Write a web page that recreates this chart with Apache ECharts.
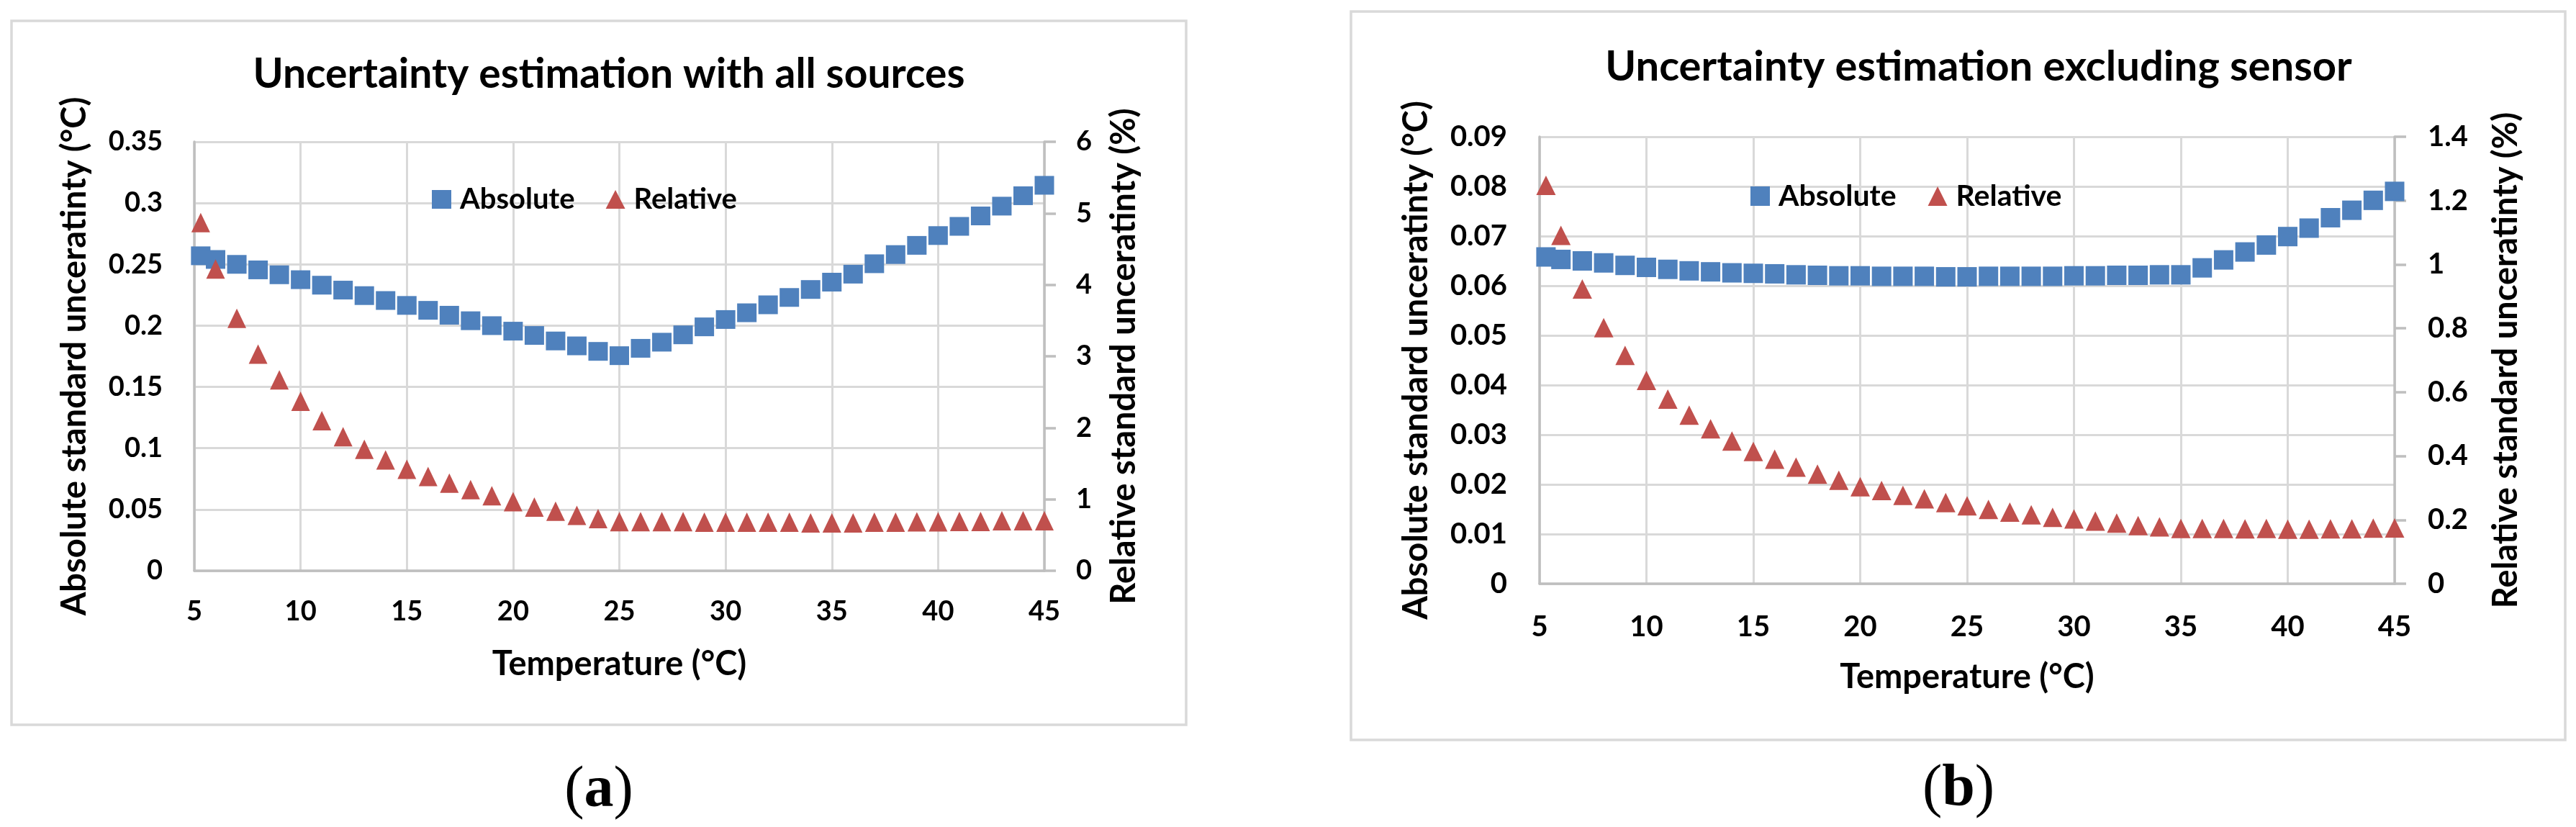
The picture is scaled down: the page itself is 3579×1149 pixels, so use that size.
<!DOCTYPE html>
<html><head><meta charset="utf-8">
<script src="https://cdn.jsdelivr.net/npm/echarts@6/dist/echarts.min.js"></script>
<style>html,body{margin:0;padding:0;background:#fff}#c{width:3579px;height:1149px}</style>
</head><body><div id="c"></div>
<script>
// ---------------- data ----------------
const temperatures = [5.3,6,7,8,9,10,11,12,13,14,15,16,17,18,19,20,21,22,23,24,25,26,27,28,29,30,31,32,33,34,35,36,37,38,39,40,41,42,43,44,45];
const absoluteA = [0.257,0.254,0.250,0.2455,0.2415,0.2375,0.233,0.229,0.2245,0.2205,0.2165,0.2125,0.2085,0.204,0.200,0.1955,0.192,0.1875,0.1835,0.179,0.1755,
                   0.1815,0.1865,0.1925,0.199,0.205,0.2105,0.217,0.223,0.2295,0.2355,0.242,0.2505,0.258,0.2655,0.2735,0.281,0.2895,0.2975,0.306,0.3145];
const relativeA = [4.87,4.22,3.53,3.03,2.67,2.37,2.10,1.875,1.70,1.55,1.42,1.32,1.225,1.135,1.05,0.967,0.89,0.834,0.775,0.73,0.686,
                   0.686,0.686,0.686,0.68,0.68,0.68,0.68,0.68,0.67,0.67,0.67,0.68,0.68,0.685,0.685,0.69,0.69,0.70,0.70,0.70];
const absoluteB = [0.0658,0.0653,0.0650,0.0646,0.0641,0.0637,0.0633,0.0630,0.0628,0.0626,0.0625,0.0624,0.0622,0.0621,0.0620,0.0620,0.0619,0.0619,0.0619,0.0618,0.0618,
                   0.0619,0.0619,0.0619,0.0619,0.0620,0.0620,0.0621,0.0621,0.0622,0.0622,0.0636,0.0652,0.0668,0.0682,0.0699,0.0716,0.0737,0.0752,0.0772,0.0790];
const relativeB = [1.248,1.091,0.923,0.802,0.715,0.637,0.578,0.528,0.485,0.447,0.414,0.390,0.365,0.343,0.324,0.304,0.292,0.277,0.266,0.254,0.244,
                   0.233,0.2245,0.216,0.208,0.203,0.196,0.190,0.182,0.178,0.173,0.173,0.173,0.172,0.173,0.171,0.171,0.172,0.172,0.174,0.175];
const chartTitles = ['Uncertainty estimation with all sources', 'Uncertainty estimation excluding sensor'];
const panelLetters = ['a', 'b'];
const seriesNames = ['Absolute', 'Relative'];
const xAxisName = 'Temperature (°C)';
const leftAxisName = 'Absolute standard unceratinty (°C)';
const rightAxisName = 'Relative standard unceratinty (%)';
const xTicks = {min: 5, max: 45, interval: 5};
const leftTicks = [{min: 0, max: 0.35, interval: 0.05}, {min: 0, max: 0.09, interval: 0.01}];
const rightTicks = [{min: 0, max: 6, interval: 1}, {min: 0, max: 1.4, interval: 0.2}];

// ---------------- layout / style ----------------
const FONT = 'Lato';
const BLUE = '#4F81BD', RED = '#C0504D', GRID = '#D9D9D9', AXIS = '#BFBFBF';
const panels = [
  {frame:[16,29,1648,1007], grid:[270,197,1181,596], titleX:846, titleTop:75, titleSize:57,
   tick:38, xMargin:38, yMargin:44, rMargin:44, name:47, leftGap:143, rightGap:87, xGap:106,
   legend:[600,257], legendGap:43, legendFont:40, sq:[27,26], tri:[26,27], letterXY:[832,1099]},
  {frame:[1877,16,3564,1028], grid:[2139,190,1188,621], titleX:2749, titleTop:64, titleSize:58,
   tick:40, xMargin:40, yMargin:45, rMargin:46, name:47, leftGap:148, rightGap:131, xGap:106,
   legend:[2432,252], legendGap:44, legendFont:41, sq:[27,27], tri:[27,27], letterXY:[2721,1097]}
];
const absData = [absoluteA, absoluteB];
const relData = [relativeA, relativeB];

const option = {
  backgroundColor: '#ffffff',
  animation: false,
  title: [], legend: [], grid: [], xAxis: [], yAxis: [], series: [], graphic: []
};

panels.forEach((p, k) => {
  const [fx0, fy0, fx1, fy1] = p.frame;
  option.graphic.push({type:'rect', shape:{x:fx0, y:fy0, width:fx1-fx0, height:fy1-fy0},
    style:{fill:'#ffffff', stroke:GRID, lineWidth:3.5}, z:-10, silent:true});
  option.graphic.push({type:'text', x:p.letterXY[0], y:p.letterXY[1], z:10,
    style:{text:'{p|(}{b|' + panelLetters[k] + '}{p|)}', align:'center', verticalAlign:'middle',
      rich:{p:{fontFamily:'Liberation Serif', fontSize:82, fill:'#000'},
            b:{fontFamily:'Liberation Serif', fontWeight:'bold', fontSize:82, fill:'#000'}}}});
  option.title.push({text: chartTitles[k], left: p.titleX, top: p.titleTop, textAlign:'center', padding:0,
    textStyle:{fontFamily:FONT, fontWeight:'bold', fontSize:p.titleSize, color:'#000'}});
  option.legend.push({left:p.legend[0], top:p.legend[1], orient:'horizontal', padding:0,
    itemWidth:p.sq[0], itemHeight:p.sq[1], itemGap:p.legendGap, selectedMode:false,
    data:[{name:seriesNames[0], icon:'rect'}, {name:seriesNames[1], icon:'triangle'}],
    textStyle:{fontFamily:FONT, fontWeight:'bold', fontSize:p.legendFont, color:'#000', padding:[0,0,0,7]}});
  option.grid.push({left:p.grid[0], top:p.grid[1], width:p.grid[2], height:p.grid[3],
    containLabel:false, outerBoundsMode:'none', show:false});
  option.xAxis.push({type:'value', gridIndex:k, min:xTicks.min, max:xTicks.max, interval:xTicks.interval,
    name:xAxisName, nameLocation:'middle', nameGap:p.xGap, nameMoveOverlap:false,
    nameTextStyle:{fontFamily:FONT, fontWeight:'bold', fontSize:p.name, color:'#000'},
    axisLine:{show:true, onZero:false, lineStyle:{color:AXIS, width:3.5}},
    axisTick:{show:false},
    axisLabel:{margin:p.xMargin, fontFamily:FONT, fontWeight:'bold', fontSize:p.tick, color:'#000'},
    splitLine:{show:true, lineStyle:{color:GRID, width:3}}});
  const lt = leftTicks[k], rt = rightTicks[k];
  option.yAxis.push({type:'value', gridIndex:k, position:'left', min:lt.min, max:lt.max, interval:lt.interval,
    name:leftAxisName, nameLocation:'middle', nameRotate:90, nameGap:p.leftGap, nameMoveOverlap:false,
    nameTextStyle:{fontFamily:FONT, fontWeight:'bold', fontSize:p.name, color:'#000'},
    axisLine:{show:true, onZero:false, lineStyle:{color:AXIS, width:3.5}},
    axisTick:{show:false},
    axisLabel:{margin:p.yMargin, fontFamily:FONT, fontWeight:'bold', fontSize:p.tick, color:'#000'},
    splitLine:{show:true, lineStyle:{color:GRID, width:3}}});
  option.yAxis.push({type:'value', gridIndex:k, position:'right', min:rt.min, max:rt.max, interval:rt.interval,
    name:rightAxisName, nameLocation:'middle', nameRotate:90, nameGap:p.rightGap, nameMoveOverlap:false,
    nameTextStyle:{fontFamily:FONT, fontWeight:'bold', fontSize:p.name, color:'#000'},
    axisLine:{show:true, onZero:false, lineStyle:{color:AXIS, width:3.5}},
    axisTick:{show:true, inside:false, length:16, lineStyle:{color:AXIS, width:3.5}},
    axisLabel:{margin:p.rMargin, fontFamily:FONT, fontWeight:'bold', fontSize:p.tick, color:'#000'},
    splitLine:{show:false}});
  option.series.push({type:'scatter', name:seriesNames[0], xAxisIndex:k, yAxisIndex:2*k,
    symbol:'rect', symbolSize:p.sq, itemStyle:{color:BLUE, opacity:1},
    data: temperatures.map((t, i) => [t, absData[k][i]]), z:2});
  option.series.push({type:'scatter', name:seriesNames[1], xAxisIndex:k, yAxisIndex:2*k+1,
    symbol:'triangle', symbolSize:p.tri, itemStyle:{color:RED, opacity:1},
    data: temperatures.map((t, i) => [t, relData[k][i]]), z:3});
});

const chart = echarts.init(document.getElementById('c'), null, {renderer:'canvas', width:3579, height:1149});
chart.setOption(option);
</script>
</body></html>
